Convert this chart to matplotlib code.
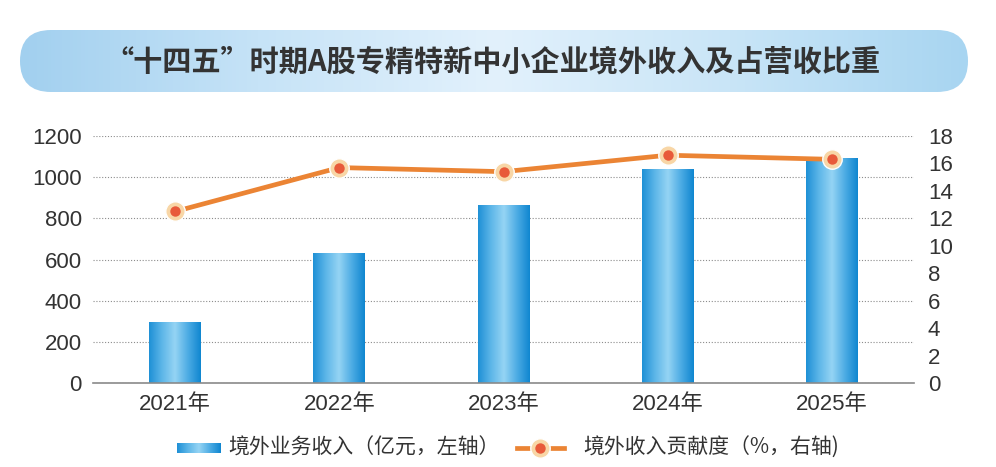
import numpy as np
import matplotlib
matplotlib.use("Agg")
import matplotlib.pyplot as plt
from matplotlib.colors import LinearSegmentedColormap
from matplotlib.lines import Line2D
from matplotlib.patches import FancyBboxPatch, Rectangle

# ---------------------------------------------------------------------------
# Data
# ---------------------------------------------------------------------------
years = ["2021年", "2022年", "2023年", "2024年", "2025年"]
overseas_revenue = [295, 630, 865, 1040, 1095]        # 亿元, left axis
contribution_pct = [12.5, 15.7, 15.4, 16.6, 16.3]     # %, right axis

left_ticks = [0, 200, 400, 600, 800, 1000, 1200]
right_ticks = [0, 2, 4, 6, 8, 10, 12, 14, 16, 18]

TITLE = "“十四五”时期A股专精特新中小企业境外收入及占营收比重"
LEGEND_BAR = "境外业务收入（亿元，左轴）"
LEGEND_LINE = "境外收入贡献度（%，右轴)"

# ---------------------------------------------------------------------------
# Styles
# ---------------------------------------------------------------------------
CJK = ["Noto Sans CJK SC", "DejaVu Sans"]
plt.rcParams["font.family"] = ["Liberation Sans", "Noto Sans CJK SC", "DejaVu Sans"]

TEXT_COLOR = "#333333"
LINE_COLOR = "#EB8434"
HALO_COLOR = "#F8D6A6"
DOT_COLOR = "#E85A3A"

bar_cmap = LinearSegmentedColormap.from_list(
    "bar", ["#1E90D6", "#5DB6E8", "#95D4F4", "#4DACE4", "#0F86D0"])
banner_cmap = LinearSegmentedColormap.from_list(
    "banner", ["#A2D0EF", "#C6E3F7", "#E2F1FC", "#C9E5F7", "#A8D5F1"])
grad = np.linspace(0, 1, 256).reshape(1, -1)

fig = plt.figure(figsize=(9.96, 4.67), dpi=100)
fig.patch.set_facecolor("white")

# -- full-figure pixel canvas for banner / legend ---------------------------
canvas = fig.add_axes([0, 0, 1, 1], zorder=0)
canvas.set_xlim(0, 996)
canvas.set_ylim(467, 0)
canvas.axis("off")

banner = FancyBboxPatch((20, 30), 948, 62,
                        boxstyle="round,pad=0,rounding_size=31",
                        facecolor="none", edgecolor="none")
canvas.add_patch(banner)
img = canvas.imshow(grad, cmap=banner_cmap, extent=(20, 968, 92, 30),
                    aspect="auto", interpolation="bicubic")
img.set_clip_path(banner)
canvas.text(492, 61, TITLE, ha="center", va="center", fontsize=21,
            fontweight="bold", color=TEXT_COLOR, family=CJK)

# -- main chart -------------------------------------------------------------
ax = fig.add_axes([93 / 996, 84 / 467, 821 / 996, 247 / 467], zorder=1)
ax.patch.set_alpha(0)
x = np.arange(len(years))
bars = ax.bar(x, overseas_revenue, width=0.316, color="none", edgecolor="none", zorder=2)
for rect in bars:
    x0, y0 = rect.get_x(), rect.get_y()
    w, h = rect.get_width(), rect.get_height()
    im = ax.imshow(grad, cmap=bar_cmap, extent=(x0, x0 + w, y0, y0 + h),
                   aspect="auto", interpolation="bicubic", zorder=2)
    im.set_clip_path(rect)

ax.set_xlim(-0.5, len(years) - 0.5)
ax.set_ylim(0, 1200)
ax.set_yticks(left_ticks)
ax.set_xticks(x)
ax.set_xticklabels(years)
ax.tick_params(axis="y", length=0, pad=8, labelsize=16, labelcolor=TEXT_COLOR)
ax.tick_params(axis="x", length=0, pad=8, labelsize=16, labelcolor=TEXT_COLOR)
ax.set_axisbelow(True)
ax.yaxis.grid(True, linestyle=(0, (1, 1.6)), color="#8c8c8c", linewidth=0.8)
for side in ("left", "right", "top"):
    ax.spines[side].set_visible(False)
ax.spines["bottom"].set_color("#8a8a8a")
ax.spines["bottom"].set_linewidth(1.2)
ax.spines["bottom"].set_zorder(3)

ax2 = ax.twinx()
ax2.set_ylim(0, 18)
ax2.set_yticks(right_ticks)
ax2.tick_params(axis="y", length=0, pad=10, labelsize=16, labelcolor=TEXT_COLOR)
for side in ("left", "right", "top", "bottom"):
    ax2.spines[side].set_visible(False)
ax2.plot(x, contribution_pct, color=LINE_COLOR, linewidth=3.4, zorder=3,
         solid_capstyle="round")
ax2.plot(x, contribution_pct, "o", markersize=14, markerfacecolor=HALO_COLOR,
         markeredgecolor="white", markeredgewidth=1.0, zorder=4)
ax2.plot(x, contribution_pct, "o", markersize=7.5, markerfacecolor=DOT_COLOR,
         markeredgecolor="none", zorder=5)

# -- legend (hand placed, pixel coords) -------------------------------------
leg_y = 448
leg_patch = Rectangle((177, 443), 44, 10, facecolor="none", edgecolor="none")
canvas.add_patch(leg_patch)
lim = canvas.imshow(grad, cmap=bar_cmap, extent=(177, 221, 453, 443),
                    aspect="auto", interpolation="bicubic")
lim.set_clip_path(leg_patch)
canvas.text(228, leg_y, LEGEND_BAR, ha="left", va="center", fontsize=15,
            color=TEXT_COLOR, family=CJK)
canvas.add_line(Line2D([517, 564], [leg_y, leg_y], color=LINE_COLOR, linewidth=3.4))
canvas.add_line(Line2D([540], [leg_y], marker="o", markersize=14,
                       markerfacecolor=HALO_COLOR, markeredgecolor="white",
                       markeredgewidth=1.0, linestyle="none"))
canvas.add_line(Line2D([540], [leg_y], marker="o", markersize=7.5,
                       markerfacecolor=DOT_COLOR, markeredgecolor="none",
                       linestyle="none"))
canvas.text(583, leg_y, LEGEND_LINE, ha="left", va="center", fontsize=15,
            color=TEXT_COLOR, family=CJK)

fig.savefig("out.png", dpi=100, facecolor="white")
